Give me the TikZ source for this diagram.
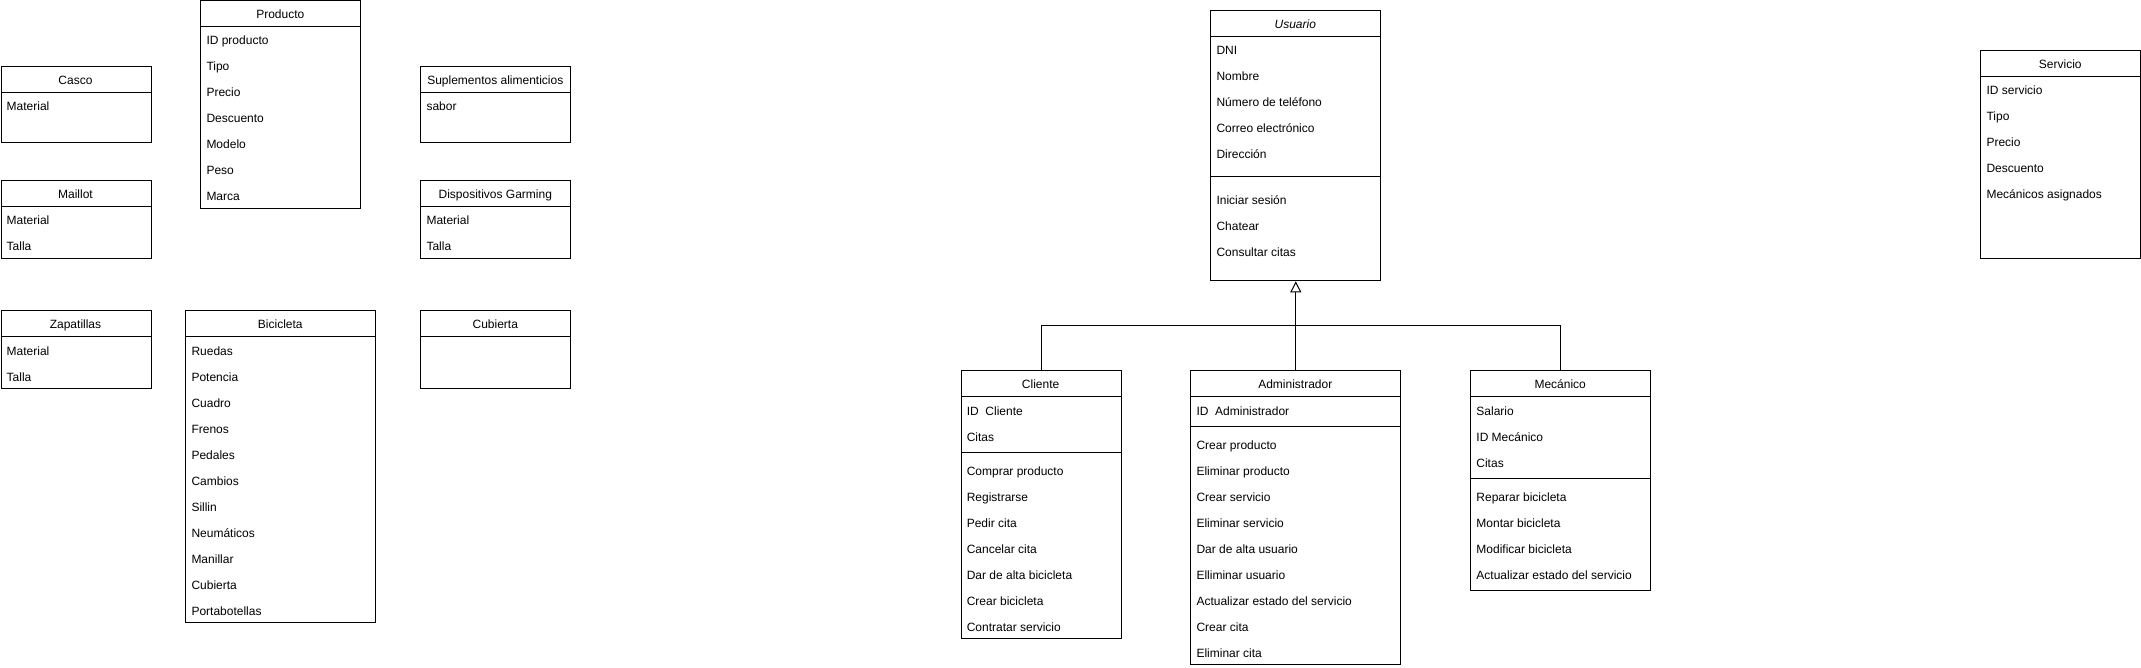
\documentclass[tikz,border=0pt]{standalone}
\usepackage{fontspec}
\setmainfont{Liberation Sans}
\usetikzlibrary{arrows.meta}
\tikzset{
  box/.style={draw=black, fill=white, line width=1pt, inner sep=0pt, rectangle},
  ln/.style={draw=black, line width=1pt},
  ttl/.style={inner sep=0pt, font=\fontsize{12pt}{14pt}\selectfont},
  itm/.style={inner sep=0pt, anchor=base west, font=\fontsize{12pt}{14pt}\selectfont},
  gen/.style={draw=black, line width=1pt, -{Triangle[open, length=11pt, width=11pt]}},
}
% name, x, y, w, h, title
\newcommand{\umlclass}[6]{%
  \node[box, minimum width=#4pt, minimum height=#5pt, anchor=north west] (#1) at (#2,#3) {};
  \draw[ln] (#2,{#3+26}) -- ++(#4,0);
  \node[ttl, anchor=base] (#1-t) at ({#2+#4/2},{#3+18.3}) {#6};
}
% name, x, ycenter, text
\newcommand{\umlitem}[4]{\node[itm] (#1) at ({#2+6},{#3+5.5}) {#4};}
% x, y, w
\newcommand{\umldiv}[3]{\draw[ln] (#1,#2) -- ++(#3,0);}
\begin{document}
\begin{tikzpicture}[x=1pt,y=-1pt]
\useasboundingbox (0,0) rectangle (2141,668);
\fill[white] (0,0) rectangle (2141,668);

% Producto
\umlclass{prod}{200.3}{0.5}{160}{208}{Producto}
\umlitem{prod1}{200.3}{39.5}{ID producto}
\umlitem{prod2}{200.3}{65.5}{Tipo}
\umlitem{prod3}{200.3}{91.5}{Precio}
\umlitem{prod4}{200.3}{117.5}{Descuento}
\umlitem{prod5}{200.3}{143.5}{Modelo}
\umlitem{prod6}{200.3}{169.5}{Peso}
\umlitem{prod7}{200.3}{195.5}{Marca}

% Casco
\umlclass{casco}{0.5}{66.3}{150}{76}{Casco}
\umlitem{casco1}{0.5}{105.5}{Material}

% Maillot
\umlclass{maillot}{0.5}{180.3}{150}{78}{Maillot}
\umlitem{maillot1}{0.5}{219.5}{Material}
\umlitem{maillot2}{0.5}{245.5}{Talla}

% Zapatillas
\umlclass{zap}{0.5}{310.3}{150}{78}{Zapatillas}
\umlitem{zap1}{0.5}{349.5}{Material}
\umlitem{zap2}{0.5}{375.5}{Talla}

% Bicicleta
\umlclass{bici}{185.3}{310.3}{190}{312}{Bicicleta}
\umlitem{bici1}{185.3}{349.5}{Ruedas}
\umlitem{bici2}{185.3}{375.5}{Potencia}
\umlitem{bici3}{185.3}{401.5}{Cuadro}
\umlitem{bici4}{185.3}{427.5}{Frenos}
\umlitem{bici5}{185.3}{453.5}{Pedales}
\umlitem{bici6}{185.3}{479.5}{Cambios}
\umlitem{bici7}{185.3}{505.5}{Sillin}
\umlitem{bici8}{185.3}{531.5}{Neumáticos}
\umlitem{bici9}{185.3}{557.5}{Manillar}
\umlitem{bici10}{185.3}{583.5}{Cubierta}
\umlitem{bici11}{185.3}{609.5}{Portabotellas}

% Suplementos
\umlclass{supl}{420.3}{66.3}{150}{76}{Suplementos alimenticios}
\umlitem{supl1}{420.3}{105.5}{sabor}

% Dispositivos
\umlclass{disp}{420.3}{180.3}{150}{78}{Dispositivos Garming}
\umlitem{disp1}{420.3}{219.5}{Material}
\umlitem{disp2}{420.3}{245.5}{Talla}

% Cubierta
\umlclass{cub}{420.3}{310.3}{150}{78}{Cubierta}

% Usuario
\umlclass{usu}{1210.3}{10.3}{170}{270}{\itshape Usuario}
\umlitem{usu1}{1210.3}{49.5}{DNI}
\umlitem{usu2}{1210.3}{75.5}{Nombre}
\umlitem{usu3}{1210.3}{101.5}{Número de teléfono}
\umlitem{usu4}{1210.3}{127.5}{Correo electrónico}
\umlitem{usu5}{1210.3}{153.5}{Dirección}
\umldiv{1210.3}{176.3}{170}
\umlitem{usu6}{1210.3}{199.5}{Iniciar sesión}
\umlitem{usu7}{1210.3}{225.5}{Chatear}
\umlitem{usu8}{1210.3}{251.5}{Consultar citas}

% Cliente
\umlclass{cli}{960.6}{370.3}{160}{268}{Cliente}
\umlitem{cli1}{960.6}{409.5}{ID~~Cliente}
\umlitem{cli2}{960.6}{435.5}{Citas}
\umldiv{960.6}{452.3}{160}
\umlitem{cli3}{960.6}{469.5}{Comprar producto}
\umlitem{cli4}{960.6}{495.5}{Registrarse}
\umlitem{cli5}{960.6}{521.5}{Pedir cita}
\umlitem{cli6}{960.6}{547.5}{Cancelar cita}
\umlitem{cli7}{960.6}{573.5}{Dar de alta bicicleta}
\umlitem{cli8}{960.6}{599.5}{Crear bicicleta}
\umlitem{cli9}{960.6}{625.5}{Contratar servicio}

% Administrador
\umlclass{adm}{1190.3}{370.3}{210}{293.7}{Administrador}
\umlitem{adm1}{1190.3}{409.5}{ID~~Administrador}
\umldiv{1190.3}{426.3}{210}
\umlitem{adm2}{1190.3}{443.5}{Crear producto}
\umlitem{adm3}{1190.3}{469.5}{Eliminar producto}
\umlitem{adm4}{1190.3}{495.5}{Crear servicio}
\umlitem{adm5}{1190.3}{521.5}{Eliminar servicio}
\umlitem{adm6}{1190.3}{547.5}{Dar de alta usuario}
\umlitem{adm7}{1190.3}{573.5}{Elliminar usuario}
\umlitem{adm8}{1190.3}{599.5}{Actualizar estado del servicio}
\umlitem{adm9}{1190.3}{625.5}{Crear cita}
\umlitem{adm10}{1190.3}{651.5}{Eliminar cita}

% Mecanico
\umlclass{mec}{1470.2}{370.3}{180}{219.7}{Mecánico}
\umlitem{mec1}{1470.2}{409.5}{Salario}
\umlitem{mec2}{1470.2}{435.5}{ID Mecánico}
\umlitem{mec3}{1470.2}{461.5}{Citas}
\umldiv{1470.2}{478.7}{180}
\umlitem{mec4}{1470.2}{495.5}{Reparar bicicleta}
\umlitem{mec5}{1470.2}{521.5}{Montar bicicleta}
\umlitem{mec6}{1470.2}{547.5}{Modificar bicicleta}
\umlitem{mec7}{1470.2}{573.5}{Actualizar estado del servicio}

% Servicio
\umlclass{serv}{1980.3}{50.3}{160}{208}{Servicio}
\umlitem{serv1}{1980.3}{89.5}{ID servicio}
\umlitem{serv2}{1980.3}{115.5}{Tipo}
\umlitem{serv3}{1980.3}{141.5}{Precio}
\umlitem{serv4}{1980.3}{167.5}{Descuento}
\umlitem{serv5}{1980.3}{193.5}{Mecánicos asignados}

% Generalization
\coordinate (j) at (usu.south |- 0,325);
\draw[ln] (cli.north) |- (j);
\draw[ln] (mec.north) |- (j);
\draw[gen] (adm.north) -- (usu.south);
\end{tikzpicture}
\end{document}
